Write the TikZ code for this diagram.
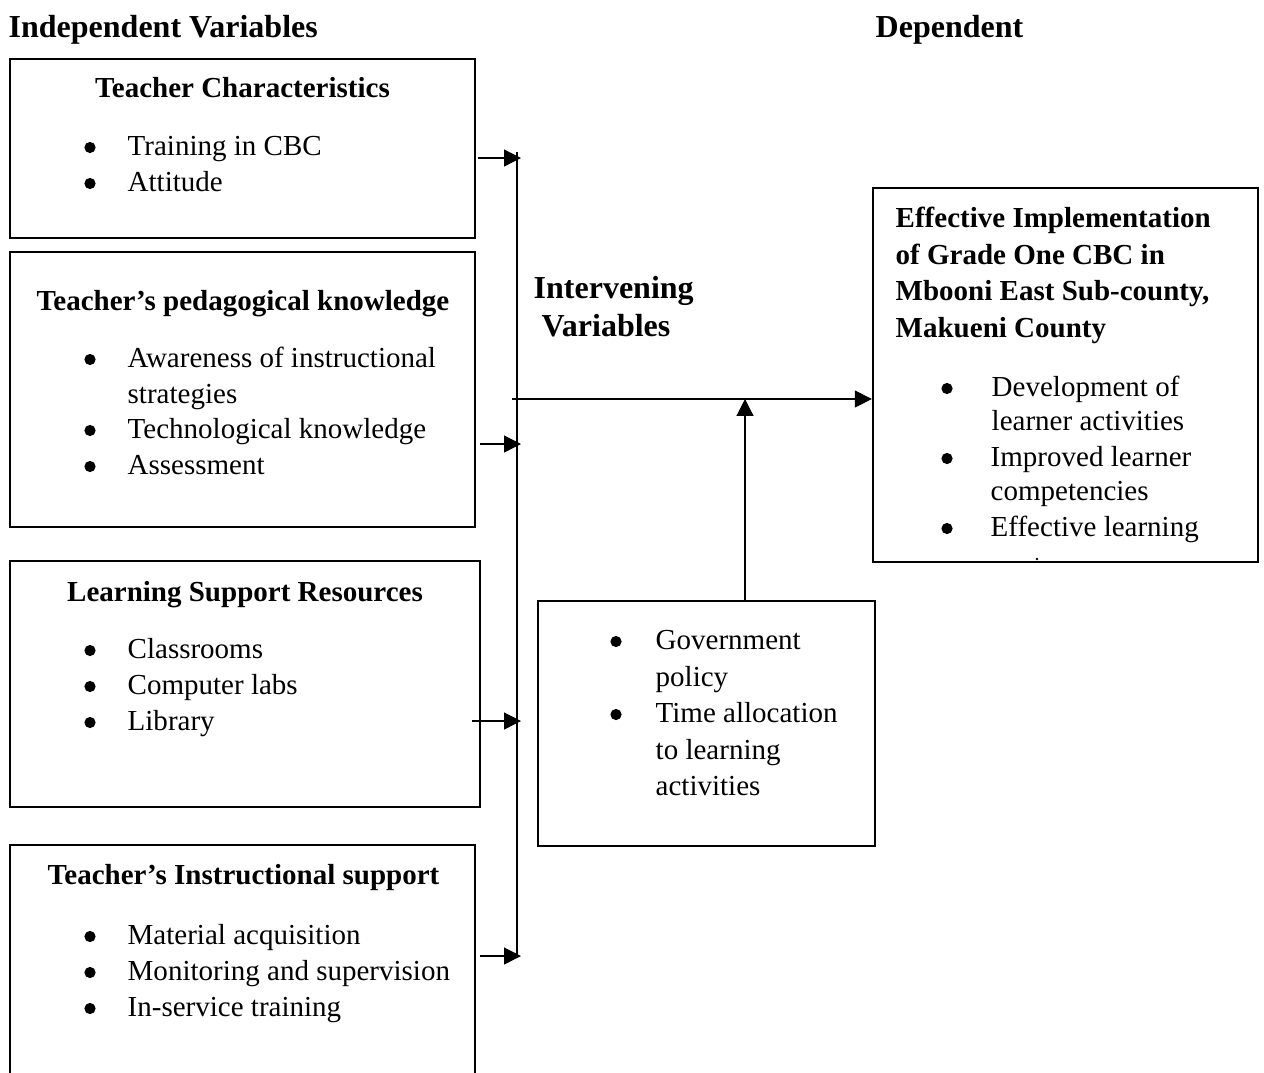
\documentclass[tikz,border=0pt]{standalone}
\usepackage{fontspec}
\setmainfont{Liberation Serif}
\usetikzlibrary{arrows.meta}
\begin{document}
\begin{tikzpicture}[x=0.01cm,y=-0.01cm,
  box/.style={draw, line width=0.6pt, inner sep=0pt, rectangle},
  txt/.style={anchor=base west, inner sep=0pt, font=\fontsize{8.25pt}{10pt}\selectfont},
  bul/.style={circle, fill, inner sep=0pt, minimum size=0.112cm, yshift=0.075cm},
  hd/.style={anchor=base, inner sep=0pt, font=\fontsize{8.25pt}{10pt}\selectfont\bfseries},
  bhd/.style={anchor=base west, inner sep=0pt, font=\fontsize{8.25pt}{10pt}\selectfont\bfseries},
  big/.style={anchor=base west, inner sep=0pt, font=\fontsize{9.1pt}{11pt}\selectfont\bfseries},
  conn/.style={line width=0.35pt},
  arr/.style={line width=0.35pt, -{Triangle[length=4.8pt,width=4.8pt]}}]
\useasboundingbox (0,0) rectangle (1264,1072);

% headings
\node[big] (hind) at (8,37) {Independent Variables};
\node[big] (hdep) at (875,37) {Dependent};
\node[big] (hint1) at (533,298) {Intervening};
\node[big] (hint2) at (541,336) {Variables};

% boxes
\node[box, minimum width=4.65cm, minimum height=1.79cm] (b1) at (242.5,148.5) {};
\node[box, minimum width=4.65cm, minimum height=2.75cm] (b2) at (242.5,389.5) {};
\node[box, minimum width=4.70cm, minimum height=2.46cm] (b3) at (245,684) {};
\node[box, minimum width=4.65cm, minimum height=2.55cm] (b4) at (242.5,972.5) {};
\node[box, minimum width=3.37cm, minimum height=2.45cm] (iv) at (706.5,723.5) {};
\node[box, minimum width=3.85cm, minimum height=3.74cm] (dep) at (1065.5,375) {};

% box 1
\node[hd] (t1) at (242.5,97) {Teacher Characteristics};
\node[bul] (b1a) at (90,155) {};
\node[txt] (l1a) at (127,155) {Training in CBC};
\node[bul] (b1b) at (90,191) {};
\node[txt] (l1b) at (127,191) {Attitude};

% box 2
\node[hd] (t2) at (243,310) {Teacher’s pedagogical knowledge};
\node[bul] (b2a) at (90,367) {};
\node[txt] (l2a) at (127,367) {Awareness of instructional};
\node[txt] (l2a2) at (127,403) {strategies};
\node[bul] (b2b) at (90,438) {};
\node[txt] (l2b) at (127,438) {Technological knowledge};
\node[bul] (b2c) at (90,474) {};
\node[txt] (l2c) at (127,474) {Assessment};

% box 3
\node[hd] (t3) at (245,601) {Learning Support Resources};
\node[bul] (b3a) at (90,658) {};
\node[txt] (l3a) at (127,658) {Classrooms};
\node[bul] (b3b) at (90,694) {};
\node[txt] (l3b) at (127,694) {Computer labs};
\node[bul] (b3c) at (90,730) {};
\node[txt] (l3c) at (127,730) {Library};

% box 4
\node[hd] (t4) at (243.5,884) {Teacher’s Instructional support};
\node[bul] (b4a) at (90,944) {};
\node[txt] (l4a) at (127,944) {Material acquisition};
\node[bul] (b4b) at (90,980) {};
\node[txt] (l4b) at (127,980) {Monitoring and supervision};
\node[bul] (b4c) at (90,1016) {};
\node[txt] (l4c) at (127,1016) {In-service training};

% intervening box
\node[bul] (iva) at (616,649) {};
\node[txt] (ivl1) at (655,649) {Government};
\node[txt] (ivl2) at (655,686) {policy};
\node[bul] (ivb) at (616,722) {};
\node[txt] (ivl3) at (655,722) {Time allocation};
\node[txt] (ivl4) at (655,759) {to learning};
\node[txt] (ivl5) at (655,795) {activities};

% dependent box
\node[bhd] (d1) at (895,227) {Effective Implementation};
\node[bhd] (d2) at (895,264) {of Grade One CBC in};
\node[bhd] (d3) at (895,300) {Mbooni East Sub-county,};
\node[bhd] (d4) at (895,337) {Makueni County};
\node[bul] (dba) at (947,396) {};
\node[txt] (dl1) at (991,396) {Development of};
\node[txt] (dl2) at (991,430) {learner activities};
\node[bul] (dbb) at (947,466) {};
\node[txt] (dl3) at (990,466) {Improved learner};
\node[txt] (dl4) at (990,500) {competencies};
\node[bul] (dbc) at (947,536) {};
\node[txt] (dl5) at (990,536) {Effective learning};
\fill (1037,559) circle (1.4);

% connectors
\coordinate (vt) at (517,152);
\coordinate (vb) at (517,958);
\draw[conn] (vt) -- (vb);
\coordinate (a1) at (478,158);
\coordinate (a2) at (480,444);
\coordinate (a3) at (472,721);
\coordinate (a4) at (480,956);
\draw[arr] (a1) -- (a1 -| 521,0);
\draw[arr] (a2) -- (a2 -| 521,0);
\draw[arr] (a3) -- (a3 -| 521,0);
\draw[arr] (a4) -- (a4 -| 521,0);
\coordinate (hs) at (512,399);
\draw[arr] (hs) -- (hs -| dep.west);
\coordinate (vup) at (745,399);
\draw[arr] (iv.north -| vup) -- (vup);
\end{tikzpicture}
\end{document}
